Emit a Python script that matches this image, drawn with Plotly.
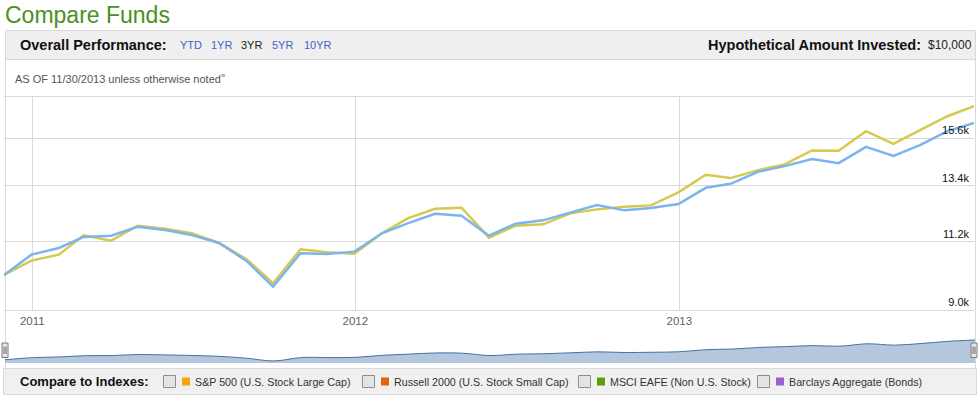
import math
import plotly.graph_objects as go

# ---------------- data ----------------
months = [
    "2010-11-30", "2010-12-31", "2011-01-31", "2011-02-28", "2011-03-31", "2011-04-30",
    "2011-05-31", "2011-06-30", "2011-07-31", "2011-08-31", "2011-09-30", "2011-10-31",
    "2011-11-30", "2011-12-31", "2012-01-31", "2012-02-29", "2012-03-31", "2012-04-30",
    "2012-05-31", "2012-06-30", "2012-07-31", "2012-08-31", "2012-09-30", "2012-10-31",
    "2012-11-30", "2012-12-31", "2013-01-31", "2013-02-28", "2013-03-31", "2013-04-30",
    "2013-05-31", "2013-06-30", "2013-07-31", "2013-08-31", "2013-09-30", "2013-10-31",
    "2013-11-30",
]
fund_values = [
    10065, 10742, 10974, 11367, 11414, 11747, 11623, 11440, 11151, 10528, 9696, 10789,
    10765, 10845, 11502, 11876, 12245, 12167, 11414, 11860, 11990, 12300, 12592, 12379,
    12470, 12631, 13307, 13478, 14006, 14264, 14587, 14402, 15172, 14742, 15255, 15953,
    16383,
]
benchmark_values = [
    10065, 10538, 10742, 11429, 11234, 11785, 11672, 11502, 11151, 10586, 9802, 10928,
    10824, 10776, 11502, 12067, 12443, 12483, 11342, 11785, 11838, 12261, 12418, 12522,
    12578, 13113, 13872, 13727, 14082, 14342, 14998, 14979, 15953, 15318, 16005, 16737,
    17282,
]
y_tick_values = [9000, 11200, 13400, 15600]
y_tick_labels = ["9.0k", "11.2k", "13.4k", "15.6k"]
y_axis_top = 17800
x_tick_values = ["2011-01-01", "2012-01-01", "2013-01-01"]
x_tick_labels = ["2011", "2012", "2013"]
period_links = ["YTD", "1YR", "3YR", "5YR", "10YR"]
selected_period = "3YR"
index_names = [
    "S&P 500 (U.S. Stock Large Cap)",
    "Russell 2000 (U.S. Stock Small Cap)",
    "MSCI EAFE (Non U.S. Stock)",
    "Barclays Aggregate (Bonds)",
]
index_colors = ["#f4a70c", "#e2630f", "#5c9e0c", "#9b5fd3"]

# ---------------- layout helpers ----------------
W, H = 980, 401
FONT = "Arial, 'Liberation Sans', sans-serif"


def px(x):
    return x / W


def py(y):
    return 1 - y / H


fig = go.Figure()

fig.add_trace(go.Scatter(
    x=months, y=benchmark_values, mode="lines",
    line=dict(color="#d6c94e", width=2.5), xaxis="x", yaxis="y",
    hoverinfo="skip", showlegend=False,
))
fig.add_trace(go.Scatter(
    x=months, y=fund_values, mode="lines",
    line=dict(color="#7cb5ec", width=2.5), xaxis="x", yaxis="y",
    hoverinfo="skip", showlegend=False,
))
# navigator
fig.add_trace(go.Scatter(
    x=months, y=fund_values, mode="lines", fill="tozeroy",
    fillcolor="#b5c7dc", line=dict(color="#4572a7", width=1, shape="spline"),
    xaxis="x2", yaxis="y2", hoverinfo="skip", showlegend=False,
))

shapes = []
# outer panel
shapes.append(dict(type="rect", xref="paper", yref="paper", layer="below",
                   x0=px(5.5), x1=px(975.5), y0=py(30.5), y1=py(368.5),
                   fillcolor="white", line=dict(color="#d9d9d9", width=1)))
# header bar
shapes.append(dict(type="rect", xref="paper", yref="paper", layer="below",
                   x0=px(5.5), x1=px(975.5), y0=py(30.5), y1=py(59.5),
                   fillcolor="#efefef", line=dict(color="#d9d9d9", width=1)))
# bottom bar
shapes.append(dict(type="rect", xref="paper", yref="paper", layer="below",
                   x0=px(3.5), x1=px(976.5), y0=py(368.5), y1=py(394.5),
                   fillcolor="#f0f0f0", line=dict(color="#d9d9d9", width=1)))

# navigator handles
for hx in (5, 974):
    shapes.append(dict(type="rect", xref="paper", yref="paper", layer="above",
                       x0=px(hx - 3), x1=px(hx + 3), y0=py(343), y1=py(357.5),
                       fillcolor="#ebe7e8", line=dict(color="#7a7a7a", width=1)))
    for dx in (-1, 1):
        shapes.append(dict(type="line", xref="paper", yref="paper", layer="above",
                           x0=px(hx + dx), x1=px(hx + dx), y0=py(346.5), y1=py(354),
                           line=dict(color="#666666", width=1)))

annotations = []
annotations.append(dict(text="Compare Funds", x=px(3), y=py(14.5), xref="paper", yref="paper",
                        xanchor="left", yanchor="middle", showarrow=False,
                        font=dict(family=FONT, size=23, color="#4b8f1d")))
annotations.append(dict(text="<b>Overall Performance:</b>", x=px(17.5), y=py(45),
                        xref="paper", yref="paper", xanchor="left", yanchor="middle",
                        showarrow=False, font=dict(family=FONT, size=14.5, color="#111111")))
link_x = [177.5, 208.5, 239, 270, 301.5]
for name, lx in zip(period_links, link_x):
    annotations.append(dict(text=name, x=px(lx), y=py(45), xref="paper", yref="paper",
                            xanchor="left", yanchor="middle", showarrow=False,
                            font=dict(family=FONT, size=11,
                                      color="#222222" if name == selected_period else "#3f63c8")))
annotations.append(dict(text="<b>Hypothetical Amount Invested:</b>", x=px(922.5), y=py(45),
                        xref="paper", yref="paper", xanchor="right", yanchor="middle",
                        showarrow=False, font=dict(family=FONT, size=14.5, color="#111111")))
annotations.append(dict(text="$10,000", x=px(926), y=py(45.5), xref="paper", yref="paper",
                        xanchor="left", yanchor="middle", showarrow=False,
                        font=dict(family=FONT, size=12, color="#222222")))
annotations.append(dict(text="AS OF 11/30/2013 unless otherwise noted<sup>»</sup>",
                        x=px(12.5), y=py(78.5), xref="paper", yref="paper",
                        xanchor="left", yanchor="middle", showarrow=False,
                        font=dict(family=FONT, size=11, color="#555555")))
annotations.append(dict(text="<b>Compare to Indexes:</b>", x=px(17.5), y=py(381),
                        xref="paper", yref="paper", xanchor="left", yanchor="middle",
                        showarrow=False, font=dict(family=FONT, size=13, color="#111111")))

box_x = [163, 362, 578, 757]
for name, color, bx in zip(index_names, index_colors, box_x):
    shapes.append(dict(type="rect", xref="paper", yref="paper", layer="above",
                       x0=px(bx + 0.5), x1=px(bx + 12.5), y0=py(375.5), y1=py(387.5),
                       fillcolor="#f3f3f3", line=dict(color="#8c8c8c", width=1)))
    shapes.append(dict(type="rect", xref="paper", yref="paper", layer="above",
                       x0=px(bx + 2), x1=px(bx + 11), y0=py(377), y1=py(386),
                       fillcolor="#e4e4e4", line=dict(color="#dcdcdc", width=1)))
    shapes.append(dict(type="rect", xref="paper", yref="paper", layer="above",
                       x0=px(bx + 19), x1=px(bx + 27), y0=py(377.5), y1=py(385.5),
                       fillcolor=color, line=dict(width=0)))
    annotations.append(dict(text=name, x=px(bx + 29.5), y=py(381.5), xref="paper", yref="paper",
                            xanchor="left", yanchor="middle", showarrow=False,
                            font=dict(family=FONT, size=10.7, color="#333333")))

fig.update_layout(
    width=W, height=H,
    margin=dict(l=0, r=0, t=0, b=0),
    paper_bgcolor="white", plot_bgcolor="rgba(0,0,0,0)",
    showlegend=False,
    xaxis=dict(
        type="date", domain=[px(4), px(974)],
        range=[months[0], months[-1]],
        tickvals=x_tick_values, ticktext=x_tick_labels,
        showgrid=True, gridcolor="#d9d9d9", gridwidth=1,
        showline=True, mirror=True, linecolor="#d9d9d9", linewidth=1,
        ticks="", zeroline=False, anchor="y",
        tickfont=dict(family=FONT, size=11.5, color="#606060"),
        fixedrange=True,
    ),
    yaxis=dict(
        type="log", domain=[py(310), py(97)],
        range=[math.log10(y_tick_values[0]) - 0.0002, math.log10(y_axis_top)],
        tickvals=y_tick_values, ticktext=y_tick_labels,
        side="right", ticklabelposition="inside top", ticklabelstandoff=2,
        showgrid=True, gridcolor="#d9d9d9", gridwidth=1,
        showline=False, zeroline=False, ticks="", anchor="x",
        tickfont=dict(family=FONT, size=11, color="#111111"),
        fixedrange=True,
    ),
    xaxis2=dict(
        type="date", domain=[px(5), px(975)],
        range=[months[0], months[-1]],
        visible=False, anchor="y2", fixedrange=True,
    ),
    yaxis2=dict(
        domain=[py(363), py(339)], range=[9040, 16700],
        visible=False, anchor="x2", fixedrange=True,
    ),
    shapes=shapes,
    annotations=annotations,
)

fig.write_html("out.html", config={"displayModeBar": False})
